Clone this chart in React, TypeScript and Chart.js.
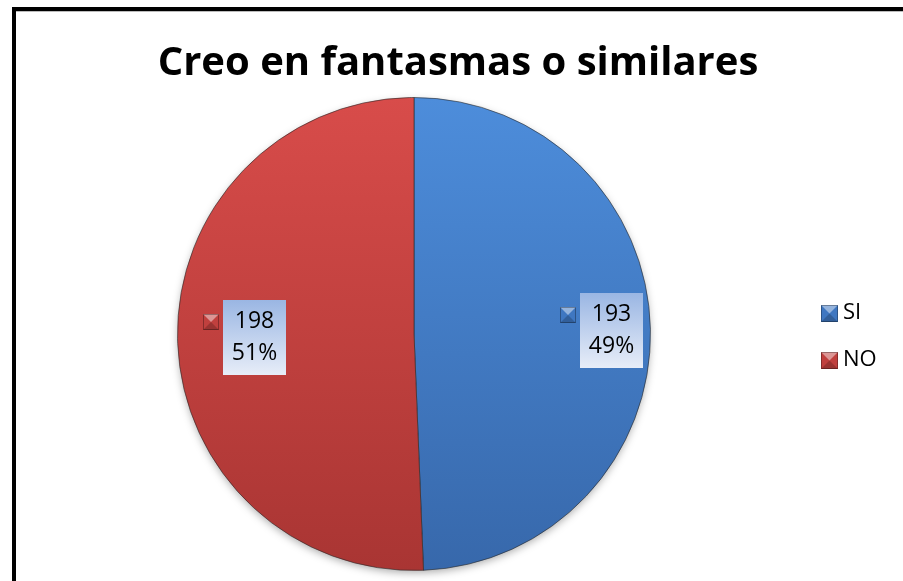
import React, { useEffect, useRef } from "react";
import { Chart, registerables } from "chart.js";

Chart.register(...registerables);

const TITLE = "Creo en fantasmas o similares";
const categories = ["SI", "NO"];
const values = [193, 198];
const percentLabels = ["49%", "51%"];

const topColors = ["#4d8ddb", "#d84c4a"];
const bottomColors = ["#3768ab", "#a93533"];
const keyColors = ["#3f77c1", "#c0403e"];
const labelDistance = [0.835, 0.675];

function bevelKey(ctx: CanvasRenderingContext2D, x: number, y: number, s: number, color: string) {
  ctx.save();
  ctx.fillStyle = color;
  ctx.fillRect(x, y, s, s);
  // top bevel lighter
  ctx.fillStyle = "rgba(255,255,255,0.45)";
  ctx.beginPath();
  ctx.moveTo(x, y);
  ctx.lineTo(x + s, y);
  ctx.lineTo(x + s / 2, y + s / 2);
  ctx.closePath();
  ctx.fill();
  // bottom darker
  ctx.fillStyle = "rgba(0,0,0,0.2)";
  ctx.beginPath();
  ctx.moveTo(x, y + s);
  ctx.lineTo(x + s, y + s);
  ctx.lineTo(x + s / 2, y + s / 2);
  ctx.closePath();
  ctx.fill();
  ctx.strokeStyle = "rgba(0,0,0,0.3)";
  ctx.lineWidth = 1;
  ctx.strokeRect(x + 0.5, y + 0.5, s - 1, s - 1);
  ctx.restore();
}

const decorPlugin = {
  id: "decor",
  beforeDraw(chart: any) {
    const ctx = chart.ctx as CanvasRenderingContext2D;
    ctx.save();
    ctx.fillStyle = "#ffffff";
    ctx.fillRect(0, 0, chart.width, chart.height);
    ctx.fillStyle = "#000000";
    ctx.fillRect(12, 7, chart.width - 12, 4);
    ctx.fillRect(12, 7, 4, chart.height - 7);
    ctx.fillStyle = "#bbbbbb";
    ctx.fillRect(16, 11, chart.width - 16, 1);
    ctx.fillStyle = "#000000";
    ctx.font = "bold 40px 'Open Sans'";
    ctx.textAlign = "center";
    ctx.textBaseline = "alphabetic";
    ctx.fillText(TITLE, 458, 75);
    const arc0 = chart.getDatasetMeta(0).data[0];
    if (arc0) {
      ctx.shadowColor = "rgba(0,0,0,0.35)";
      ctx.shadowBlur = 8;
      ctx.shadowOffsetY = 3;
      ctx.beginPath();
      ctx.arc(arc0.x, arc0.y, arc0.outerRadius - 1, 0, Math.PI * 2);
      ctx.fillStyle = "#ffffff";
      ctx.fill();
    }
    ctx.restore();
  },
  afterDatasetsDraw(chart: any) {
    const ctx = chart.ctx as CanvasRenderingContext2D;
    const meta = chart.getDatasetMeta(0);
    ctx.save();
    meta.data.forEach((arc: any, i: number) => {
      const mid = (arc.startAngle + arc.endAngle) / 2;
      const d = arc.outerRadius * labelDistance[i];
      const cx = arc.x + Math.cos(mid) * d;
      const cy = arc.y + Math.sin(mid) * d;
      const w = 63, h = 75;
      const bx = Math.round(cx - w / 2), by = Math.round(cy - h / 2);
      const g = ctx.createLinearGradient(0, by, 0, by + h);
      g.addColorStop(0, "#9ab6e3");
      g.addColorStop(1, "#e7edf8");
      ctx.fillStyle = g;
      ctx.fillRect(bx, by, w, h);
      bevelKey(ctx, bx - 20, by + 14, 16, keyColors[i]);
      ctx.fillStyle = "#000000";
      ctx.font = "23px 'Open Sans'";
      ctx.textAlign = "center";
      ctx.textBaseline = "middle";
      ctx.fillText(String(chart.data.datasets[0].data[i]), bx + w / 2, by + 21);
      ctx.fillText(percentLabels[i], bx + w / 2, by + 53);
    });
    (chart.data.labels as string[]).forEach((lab: string, i: number) => {
      const y = 313 + i * 47;
      bevelKey(ctx, 821, y - 8, 17, keyColors[i]);
      ctx.fillStyle = "#000000";
      ctx.font = "22px 'Open Sans'";
      ctx.textAlign = "left";
      ctx.textBaseline = "middle";
      ctx.fillText(lab, 843, y);
    });
    ctx.restore();
  },
};

export default function App() {
  const ref = useRef<HTMLCanvasElement | null>(null);
  useEffect(() => {
    if (!ref.current) return;
    const chart = new Chart(ref.current, {
      type: "pie",
      data: {
        labels: categories,
        datasets: [
          {
            data: values,
            backgroundColor: (c: any) => {
              const ch = c.chart;
              const area = ch.chartArea;
              if (!area) return topColors[c.dataIndex];
              const g = ch.ctx.createLinearGradient(0, area.top, 0, area.bottom);
              g.addColorStop(0, topColors[c.dataIndex]);
              g.addColorStop(1, bottomColors[c.dataIndex]);
              return g;
            },
            borderColor: "rgba(40,40,40,0.6)",
            borderWidth: 1,
          },
        ],
      },
      options: {
        animation: false,
        responsive: false,
        rotation: 0,
        layout: { padding: { left: 177, right: 252, top: 97, bottom: 10 } },
        plugins: {
          legend: { display: false },
          title: { display: false },
          tooltip: { enabled: false },
        },
      },
      plugins: [decorPlugin],
    });
    return () => chart.destroy();
  }, []);
  return (
    <div style={{ position: "absolute", left: 0, top: 0, width: 903, height: 581 }}>
      <canvas ref={ref} width={903} height={581} style={{ display: "block" }} />
    </div>
  );
}
